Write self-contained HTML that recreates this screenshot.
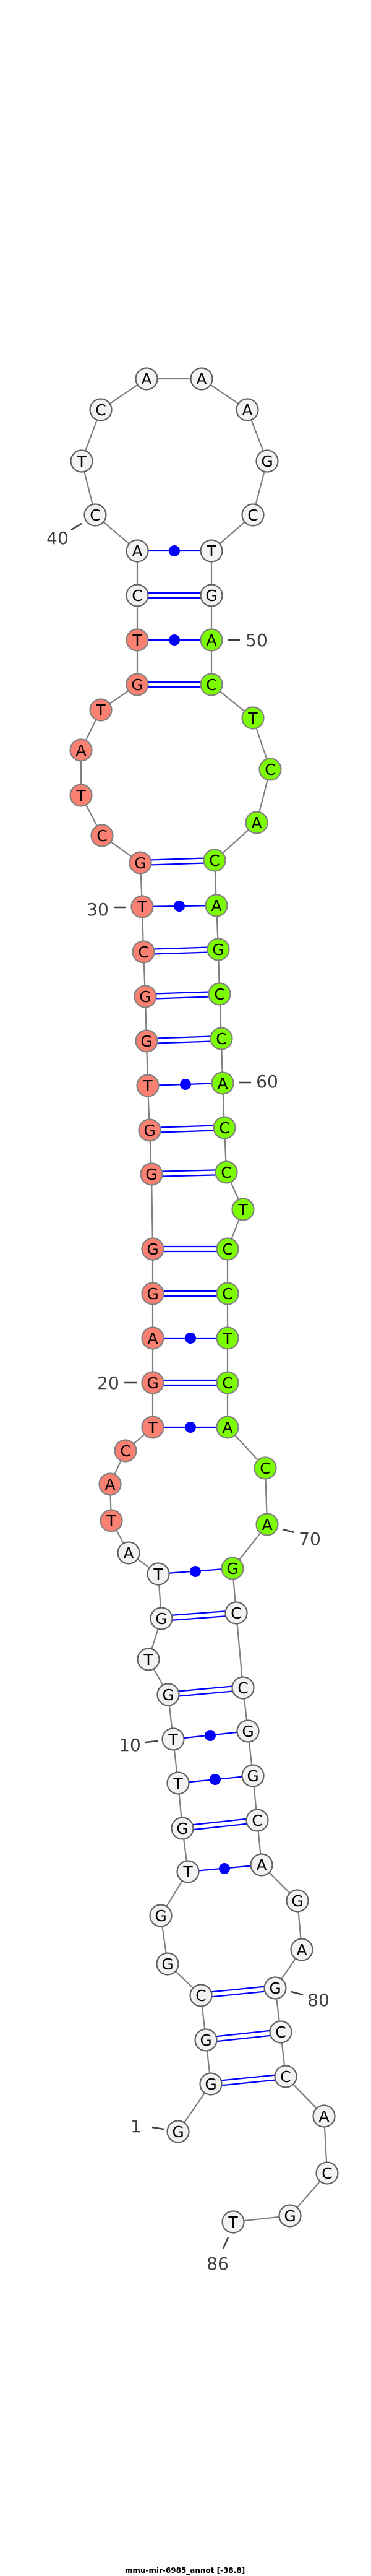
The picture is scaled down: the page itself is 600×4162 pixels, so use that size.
<!DOCTYPE html>
<html><head><meta charset="utf-8"><style>html,body{margin:0;padding:0;background:#fff}svg{display:block}</style></head>
<body>
<svg xmlns="http://www.w3.org/2000/svg" width="600" height="4162" viewBox="0 0 600 4162">
<rect width="600" height="4162" fill="#fff"/>
<g stroke="#808080" stroke-width="2.2" fill="none">
<polyline points="288,3444 341,3367 333,3296 325,3224 271,3173 260,3095 304,3024 295,2954 288,2881 280,2810 272,2738 240,2681 261,2615 256,2543 208,2509 180,2457 178,2398 203,2344 247,2306 247,2234 247,2162 247,2090 247,2018 245,1897 242,1826 239,1754 237,1682 235,1610 232,1538 230,1465 227,1394 165,1350 131,1285 131,1212 163,1147 222,1106 222,1034 222,962 222,890 154,832 132,745 163,662 237,612 326,612 400,662 432,745 409,832 342,890 342,962 342,1034 342,1106 409,1160 437,1243 415,1329 347,1390 350,1463 353,1534 355,1606 358,1678 360,1750 363,1822 366,1894 393,1954 368,2018 368,2090 368,2162 368,2234 368,2306 429,2372 432,2463 376,2534 382,2606 393,2727 401,2797 409,2869 416,2941 423,3013 481,3071 488,3150 445,3212 454,3283 462,3355 524,3419 529,3511 469,3580 377,3590"/>
</g>
<g stroke="#0000ff" stroke-width="2.2" fill="none">
<!-- double lines (GC) -->
<path d="M222,958H342M222,966H342"/>
<path d="M222,1102H342M222,1110H342"/>
<path d="M227,1390L347,1386M227,1398L347,1394"/>
<path d="M232,1534L353,1530M232,1542L353,1538"/>
<path d="M235,1606L355,1602M235,1614L355,1610"/>
<path d="M237,1678L358,1674M237,1686L358,1682"/>
<path d="M242,1822L363,1818M242,1830L363,1826"/>
<path d="M245,1893L366,1890M245,1901L366,1898"/>
<path d="M247,2014H368M247,2022H368"/>
<path d="M247,2086H368M247,2094H368"/>
<path d="M247,2230H368M247,2238H368"/>
<path d="M261,2611L382,2602M261,2619L382,2610"/>
<path d="M272,2734L393,2723M272,2742L393,2731"/>
<path d="M295,2950L416,2937M295,2958L416,2945"/>
<path d="M325,3220L445,3208M325,3228L445,3216"/>
<path d="M333,3292L454,3279M333,3300L454,3287"/>
<path d="M341,3363L462,3351M341,3371L462,3359"/>
<!-- single lines (dot pairs) -->
<path d="M222,890H342M222,1034H342M230,1465L350,1463M239,1754L360,1750M247,2162H368M247,2306H368M256,2543L376,2534M280,2810L401,2797M288,2881L409,2869M304,3024L423,3013"/>
</g>
<g fill="#0000ff">
<circle cx="282" cy="890" r="9"/><circle cx="282" cy="1034" r="9"/>
<circle cx="290" cy="1464" r="9"/><circle cx="300" cy="1752" r="9"/>
<circle cx="308" cy="2162" r="9"/><circle cx="308" cy="2306" r="9"/>
<circle cx="316" cy="2539" r="9"/><circle cx="340" cy="2804" r="9"/>
<circle cx="348" cy="2875" r="9"/><circle cx="363" cy="3019" r="9"/>
</g>
<g stroke-width="2.2" font-family="DejaVu Sans, Liberation Sans, sans-serif" font-size="25" text-anchor="middle">
<g fill="#f2f2f2" stroke="#606060">
<circle cx="288" cy="3444" r="17.5"/><circle cx="341" cy="3367" r="17.5"/><circle cx="333" cy="3296" r="17.5"/><circle cx="325" cy="3224" r="17.5"/><circle cx="271" cy="3173" r="17.5"/><circle cx="260" cy="3095" r="17.5"/><circle cx="304" cy="3024" r="17.5"/><circle cx="295" cy="2954" r="17.5"/><circle cx="288" cy="2881" r="17.5"/><circle cx="280" cy="2810" r="17.5"/><circle cx="272" cy="2738" r="17.5"/><circle cx="240" cy="2681" r="17.5"/><circle cx="261" cy="2615" r="17.5"/><circle cx="256" cy="2543" r="17.5"/><circle cx="208" cy="2509" r="17.5"/>
<circle cx="222" cy="962" r="17.5"/><circle cx="222" cy="890" r="17.5"/><circle cx="154" cy="832" r="17.5"/><circle cx="132" cy="745" r="17.5"/><circle cx="163" cy="662" r="17.5"/><circle cx="237" cy="612" r="17.5"/><circle cx="326" cy="612" r="17.5"/><circle cx="400" cy="662" r="17.5"/><circle cx="432" cy="745" r="17.5"/><circle cx="409" cy="832" r="17.5"/><circle cx="342" cy="890" r="17.5"/><circle cx="342" cy="962" r="17.5"/>
<circle cx="382" cy="2606" r="17.5"/><circle cx="393" cy="2727" r="17.5"/><circle cx="401" cy="2797" r="17.5"/><circle cx="409" cy="2869" r="17.5"/><circle cx="416" cy="2941" r="17.5"/><circle cx="423" cy="3013" r="17.5"/><circle cx="481" cy="3071" r="17.5"/><circle cx="488" cy="3150" r="17.5"/><circle cx="445" cy="3212" r="17.5"/><circle cx="454" cy="3283" r="17.5"/><circle cx="462" cy="3355" r="17.5"/><circle cx="524" cy="3419" r="17.5"/><circle cx="529" cy="3511" r="17.5"/><circle cx="469" cy="3580" r="17.5"/><circle cx="377" cy="3590" r="17.5"/>
</g>
<g fill="#fa8072" stroke="#808080">
<circle cx="180" cy="2457" r="17.5"/><circle cx="178" cy="2398" r="17.5"/><circle cx="203" cy="2344" r="17.5"/><circle cx="247" cy="2306" r="17.5"/><circle cx="247" cy="2234" r="17.5"/><circle cx="247" cy="2162" r="17.5"/><circle cx="247" cy="2090" r="17.5"/><circle cx="247" cy="2018" r="17.5"/><circle cx="245" cy="1897" r="17.5"/><circle cx="242" cy="1826" r="17.5"/><circle cx="239" cy="1754" r="17.5"/><circle cx="237" cy="1682" r="17.5"/><circle cx="235" cy="1610" r="17.5"/><circle cx="232" cy="1538" r="17.5"/><circle cx="230" cy="1465" r="17.5"/><circle cx="227" cy="1394" r="17.5"/><circle cx="165" cy="1350" r="17.5"/><circle cx="131" cy="1285" r="17.5"/><circle cx="131" cy="1212" r="17.5"/><circle cx="163" cy="1147" r="17.5"/><circle cx="222" cy="1106" r="17.5"/><circle cx="222" cy="1034" r="17.5"/>
</g>
<g fill="#7cfc00" stroke="#808080">
<circle cx="342" cy="1034" r="17.5"/><circle cx="342" cy="1106" r="17.5"/><circle cx="409" cy="1160" r="17.5"/><circle cx="437" cy="1243" r="17.5"/><circle cx="415" cy="1329" r="17.5"/><circle cx="347" cy="1390" r="17.5"/><circle cx="350" cy="1463" r="17.5"/><circle cx="353" cy="1534" r="17.5"/><circle cx="355" cy="1606" r="17.5"/><circle cx="358" cy="1678" r="17.5"/><circle cx="360" cy="1750" r="17.5"/><circle cx="363" cy="1822" r="17.5"/><circle cx="366" cy="1894" r="17.5"/><circle cx="393" cy="1954" r="17.5"/><circle cx="368" cy="2018" r="17.5"/><circle cx="368" cy="2090" r="17.5"/><circle cx="368" cy="2162" r="17.5"/><circle cx="368" cy="2234" r="17.5"/><circle cx="368" cy="2306" r="17.5"/><circle cx="429" cy="2372" r="17.5"/><circle cx="432" cy="2463" r="17.5"/><circle cx="376" cy="2534" r="17.5"/>
</g>
<g fill="#000" stroke="none">
<text x="288" y="3453">G</text><text x="341" y="3376">G</text><text x="333" y="3305">G</text><text x="325" y="3233">C</text><text x="271" y="3182">G</text><text x="260" y="3104">G</text><text x="304" y="3033">T</text><text x="295" y="2963">G</text><text x="288" y="2890">T</text><text x="280" y="2819">T</text><text x="272" y="2747">G</text><text x="240" y="2690">T</text><text x="261" y="2624">G</text><text x="256" y="2552">T</text><text x="208" y="2518">A</text>
<text x="180" y="2466">T</text><text x="178" y="2407">A</text><text x="203" y="2353">C</text><text x="247" y="2315">T</text><text x="247" y="2243">G</text><text x="247" y="2171">A</text><text x="247" y="2099">G</text><text x="247" y="2027">G</text><text x="245" y="1906">G</text><text x="242" y="1835">G</text><text x="239" y="1763">T</text><text x="237" y="1691">G</text><text x="235" y="1619">G</text><text x="232" y="1547">C</text><text x="230" y="1474">T</text><text x="227" y="1403">G</text><text x="165" y="1359">C</text><text x="131" y="1294">T</text><text x="131" y="1221">A</text><text x="163" y="1156">T</text><text x="222" y="1115">G</text><text x="222" y="1043">T</text>
<text x="222" y="971">C</text><text x="222" y="899">A</text><text x="154" y="841">C</text><text x="132" y="754">T</text><text x="163" y="671">C</text><text x="237" y="621">A</text><text x="326" y="621">A</text><text x="400" y="671">A</text><text x="432" y="754">G</text><text x="409" y="841">C</text><text x="342" y="899">T</text><text x="342" y="971">G</text>
<text x="342" y="1043">A</text><text x="342" y="1115">C</text><text x="409" y="1169">T</text><text x="437" y="1252">C</text><text x="415" y="1338">A</text><text x="347" y="1399">C</text><text x="350" y="1472">A</text><text x="353" y="1543">G</text><text x="355" y="1615">C</text><text x="358" y="1687">C</text><text x="360" y="1759">A</text><text x="363" y="1831">C</text><text x="366" y="1903">C</text><text x="393" y="1963">T</text><text x="368" y="2027">C</text><text x="368" y="2099">C</text><text x="368" y="2171">T</text><text x="368" y="2243">C</text><text x="368" y="2315">A</text><text x="429" y="2381">C</text><text x="432" y="2472">A</text><text x="376" y="2543">G</text>
<text x="382" y="2615">C</text><text x="393" y="2736">C</text><text x="401" y="2806">G</text><text x="409" y="2878">G</text><text x="416" y="2950">C</text><text x="423" y="3022">A</text><text x="481" y="3080">G</text><text x="488" y="3159">A</text><text x="445" y="3221">G</text><text x="454" y="3292">C</text><text x="462" y="3364">C</text><text x="524" y="3428">A</text><text x="529" y="3520">C</text><text x="469" y="3589">G</text><text x="377" y="3599">T</text>
</g>
</g>
<g stroke="#404040" stroke-width="2.5">
<line x1="115" y1="856" x2="132" y2="846"/>
<line x1="368" y1="1034" x2="388" y2="1034"/>
<line x1="184" y1="1466" x2="204" y2="1466"/>
<line x1="387" y1="1749" x2="406" y2="1749"/>
<line x1="201" y1="2234" x2="222" y2="2234"/>
<line x1="457" y1="2471" x2="476" y2="2476"/>
<line x1="235" y1="2815" x2="255" y2="2813"/>
<line x1="471" y1="3218" x2="490" y2="3223"/>
<line x1="246" y1="3437" x2="265" y2="3440"/>
<line x1="369" y1="3615" x2="361" y2="3633"/>
</g>
<g fill="#404040" font-family="DejaVu Sans, Liberation Sans, sans-serif" font-size="28" text-anchor="middle">
<text x="93" y="879">40</text>
<text x="415" y="1044">50</text>
<text x="158" y="1479">30</text>
<text x="432" y="1757">60</text>
<text x="175" y="2244">20</text>
<text x="501" y="2496">70</text>
<text x="210" y="2829">10</text>
<text x="515" y="3241">80</text>
<text x="220" y="3445">1</text>
<text x="352" y="3667">86</text>
</g>
<text x="299" y="4157" font-family="DejaVu Sans, Liberation Sans, sans-serif" font-size="12" font-weight="bold" text-anchor="middle" fill="#000">mmu-mir-6985_annot [-38.8]</text>
</svg>
</body></html>
